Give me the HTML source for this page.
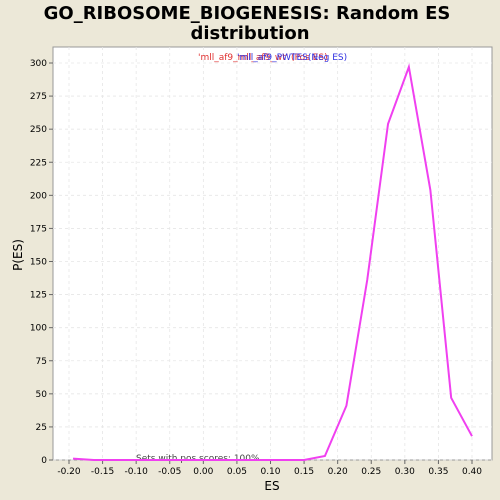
<!DOCTYPE html>
<html><head><meta charset="utf-8"><style>
body{margin:0;background:#ece8d8;font-family:"DejaVu Sans","Liberation Sans",sans-serif;}
svg{display:block}
</style></head><body>
<svg id="c" width="500" height="500">
<rect width="500" height="500" fill="#ece8d8"/>
<text x="247" y="19" text-anchor="middle" font-size="18" font-weight="bold">GO_RIBOSOME_BIOGENESIS: Random ES</text>
<text x="250" y="39" text-anchor="middle" font-size="18" font-weight="bold">distribution</text>
<rect x="53" y="47" width="439" height="413" fill="#fff" stroke="#999"/>
<g id="grid"></g><g id="axes"></g>
<text x="272" y="490" text-anchor="middle" font-size="12">ES</text>
<text x="22" y="255" text-anchor="middle" font-size="12" transform="rotate(-90 22 255)">P(ES)</text>
<text x="198" y="60" font-size="9" fill="#e03030">'mll_af9_mll_af9_wt' (Pos ES)</text>
<text x="237" y="60" font-size="9" fill="#3030e0">'mll_af9_PWTES(Neg ES)</text>
<text x="136" y="461" font-size="9" fill="#444">Sets with pos scores: 100%</text>
<path id="line" fill="none" stroke="#f040f0" stroke-width="2"/>
</svg>
<script>
const esValues=[-0.194,-0.163,-0.131,-0.1,-0.069,-0.038,-0.006,0.025,0.056,0.088,0.119,0.150,0.181,0.213,0.244,0.275,0.306,0.338,0.369,0.400];
const pValues=[1,0,0,0,0,0,0,0,0,0,0,0,3,41,136,254,297,204,47,18];
const xTicks=[-0.2,-0.15,-0.1,-0.05,0,0.05,0.1,0.15,0.2,0.25,0.3,0.35,0.4];
const yTicks=[0,25,50,75,100,125,150,175,200,225,250,275,300];
const ns="http://www.w3.org/2000/svg";
const X=v=>69+(v+0.2)*403/0.6, Y=v=>460-v*397/300;
const g=document.getElementById('grid'),a=document.getElementById('axes');
function mk(p,t,at){const e=document.createElementNS(ns,t);for(const k in at)e.setAttribute(k,at[k]);p.appendChild(e);return e;}
xTicks.forEach(t=>{const x=X(t);
const l=mk(g,'line',{x1:x,x2:x,y1:47,y2:460,stroke:'#e6e6e6','stroke-width':0.8,'stroke-dasharray':'3,3'});


mk(a,'line',{x1:x,x2:x,y1:460,y2:464,stroke:'#666'});
const tx=mk(a,'text',{x:x,y:474,'text-anchor':'middle','font-size':9});tx.textContent=t.toFixed(2);

});
yTicks.forEach(t=>{const y=Y(t);
const l=mk(g,'line',{x1:53,x2:492,y1:y,y2:y,stroke:'#e6e6e6','stroke-width':0.8,'stroke-dasharray':'3,3'});


mk(a,'line',{x1:49,x2:53,y1:y,y2:y,stroke:'#666'});
const tx=mk(a,'text',{x:47,y:y+3,'text-anchor':'end','font-size':9});tx.textContent=t;

});
document.getElementById('line').setAttribute('d',esValues.map((v,i)=>(i?'L':'M')+X(v)+','+Y(pValues[i])).join(''));
</script>
</body></html>
